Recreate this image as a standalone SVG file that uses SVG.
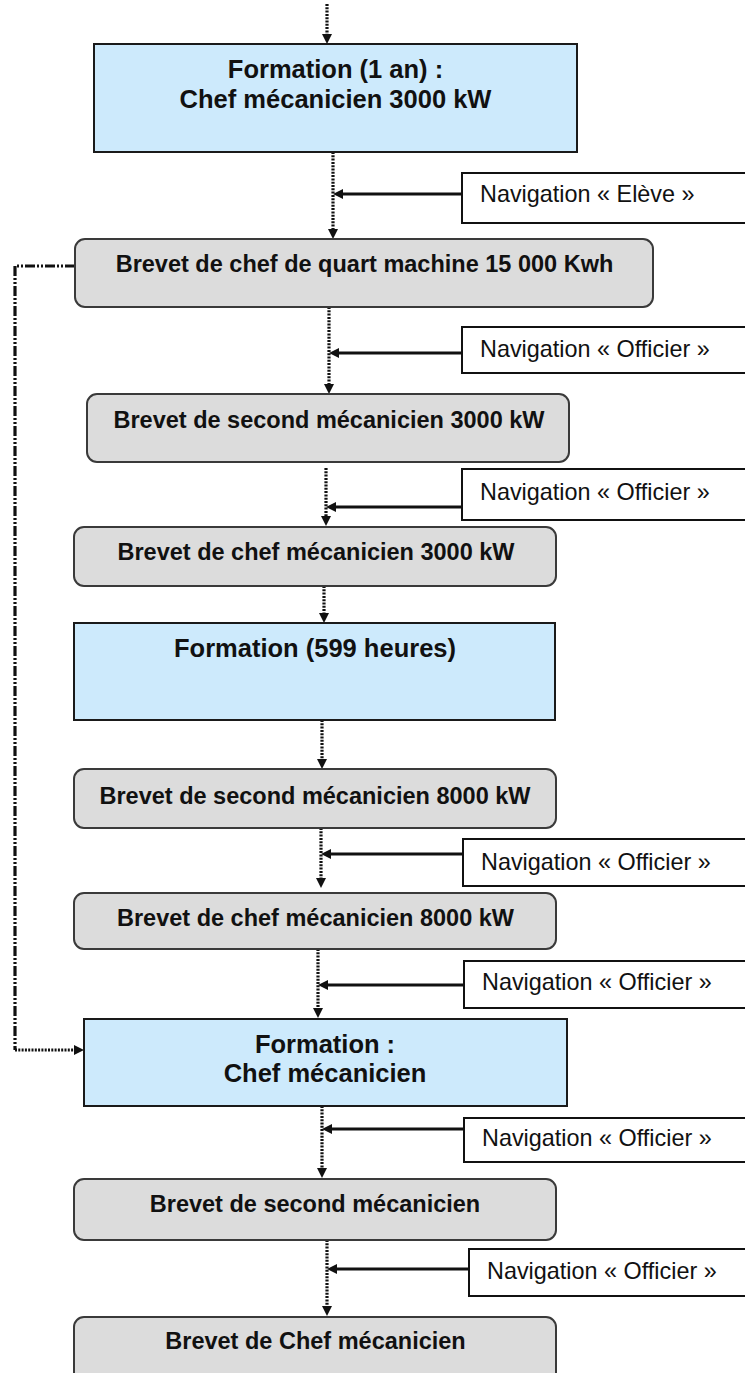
<svg xmlns="http://www.w3.org/2000/svg" width="745" height="1373" viewBox="0 0 745 1373">
<defs>
<marker id="ah" viewBox="0 0 10 10" refX="0" refY="5" markerWidth="10" markerHeight="11" markerUnits="userSpaceOnUse" orient="auto"><path d="M0,0 L10,5 L0,10 z" fill="#111"/></marker>
</defs>
<style>
.blue{fill:#cdeafc;stroke:#1a1a1a;stroke-width:2}
.gray{fill:#dcdcdc;stroke:#3a3a3a;stroke-width:2}
.nav{fill:#fff;stroke:#111;stroke-width:2}
.tb{font-family:"Liberation Sans",Arial,sans-serif;font-weight:bold;fill:#111;text-anchor:middle}
.t1{font-size:25.5px}
.t2{font-size:23.5px}
.tn{font-family:"Liberation Sans",Arial,sans-serif;font-size:23.4px;fill:#111}
.dot{fill:none;stroke:#111;stroke-width:3.2;stroke-dasharray:2 1.3}
.sol{fill:none;stroke:#111;stroke-width:2.8}
.dd{fill:none;stroke:#111;stroke-width:3.2;stroke-dasharray:10 2 2 2 2 2}
</style>
<rect width="745" height="1373" fill="#fff"/>

<g id="connectors">
<path class="dot" d="M327,4 V34" marker-end="url(#ah)"/>
<path class="dot" d="M333,152 V229" marker-end="url(#ah)"/>
<path class="dot" d="M329,307 V384" marker-end="url(#ah)"/>
<path class="dot" d="M326,468 V516" marker-end="url(#ah)"/>
<path class="dot" d="M324,586 V613" marker-end="url(#ah)"/>
<path class="dot" d="M322,720 V759" marker-end="url(#ah)"/>
<path class="dot" d="M321,828 V878" marker-end="url(#ah)"/>
<path class="dot" d="M318,949 V1008" marker-end="url(#ah)"/>
<path class="dot" d="M322,1106 V1168" marker-end="url(#ah)"/>
<path class="dot" d="M327,1240 V1306" marker-end="url(#ah)"/>
<path class="sol" d="M462,194 H343" marker-end="url(#ah)"/>
<path class="sol" d="M462,353 H339" marker-end="url(#ah)"/>
<path class="sol" d="M462,507 H336" marker-end="url(#ah)"/>
<path class="sol" d="M463,854 H331" marker-end="url(#ah)"/>
<path class="sol" d="M464,985 H328" marker-end="url(#ah)"/>
<path class="sol" d="M464,1129 H332" marker-end="url(#ah)"/>
<path class="sol" d="M477,1269 H337" marker-end="url(#ah)"/>
<path class="dd" d="M75,266 H15 V1050"/>
<path class="dot" d="M15,1050 H74" marker-end="url(#ah)"/>
</g>

<g id="n1"><rect class="blue" x="94" y="44" width="483" height="108"/>
<text class="tb t1" x="335.5" y="78">Formation (1 an) :</text>
<text class="tb t1" x="335.5" y="108">Chef mécanicien 3000 kW</text></g>

<g id="nav1"><rect class="nav" x="462" y="173" width="300" height="50"/>
<text class="tn" x="480" y="202">Navigation « Elève »</text></g>

<g id="n2"><rect class="gray" x="75" y="239" width="578" height="68" rx="10"/>
<text class="tb t2" x="364.5" y="272">Brevet de chef de quart machine 15 000 Kwh</text></g>

<g id="nav2"><rect class="nav" x="462" y="327" width="300" height="46"/>
<text class="tn" x="480" y="357">Navigation « Officier »</text></g>

<g id="n3"><rect class="gray" x="87" y="394" width="482" height="68" rx="10"/>
<text class="tb t2" x="329" y="428">Brevet de second mécanicien 3000 kW</text></g>

<g id="nav3"><rect class="nav" x="462" y="469" width="300" height="51"/>
<text class="tn" x="480" y="500">Navigation « Officier »</text></g>

<g id="n4"><rect class="gray" x="74" y="527" width="482" height="59" rx="10"/>
<text class="tb t2" x="316" y="560">Brevet de chef mécanicien 3000 kW</text></g>

<g id="n5"><rect class="blue" x="74" y="623" width="481" height="97"/>
<text class="tb t1" x="315" y="657">Formation (599 heures)</text></g>

<g id="n6"><rect class="gray" x="74" y="769" width="482" height="59" rx="10"/>
<text class="tb t2" x="315" y="804">Brevet de second mécanicien 8000 kW</text></g>

<g id="nav4"><rect class="nav" x="463" y="839" width="300" height="47"/>
<text class="tn" x="481" y="870">Navigation « Officier »</text></g>

<g id="n7"><rect class="gray" x="74" y="893" width="482" height="56" rx="10"/>
<text class="tb t2" x="315.5" y="926">Brevet de chef mécanicien 8000 kW</text></g>

<g id="nav5"><rect class="nav" x="464" y="961" width="300" height="47"/>
<text class="tn" x="482" y="990">Navigation « Officier »</text></g>

<g id="n8"><rect class="blue" x="84" y="1019" width="483" height="87"/>
<text class="tb t1" x="325" y="1053">Formation :</text>
<text class="tb t1" x="325" y="1082">Chef mécanicien</text></g>

<g id="nav6"><rect class="nav" x="464" y="1118" width="300" height="44"/>
<text class="tn" x="482" y="1146">Navigation « Officier »</text></g>

<g id="n9"><rect class="gray" x="74" y="1179" width="482" height="61" rx="10"/>
<text class="tb t2" x="315" y="1212">Brevet de second mécanicien</text></g>

<g id="nav7"><rect class="nav" x="469" y="1249" width="300" height="47"/>
<text class="tn" x="487" y="1279">Navigation « Officier »</text></g>

<g id="n10"><rect class="gray" x="74" y="1317" width="482" height="80" rx="10"/>
<text class="tb t2" x="315.5" y="1349">Brevet de Chef mécanicien</text></g>
</svg>
